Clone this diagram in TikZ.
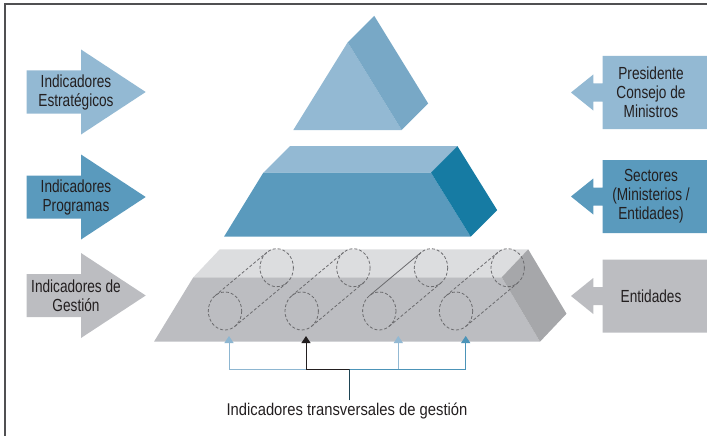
\documentclass[tikz,border=0pt]{standalone}
\usepackage{fontspec}
\setmainfont{Liberation Sans}[FakeStretch=0.78]
\newfontfamily\widefont{Liberation Sans}[FakeStretch=0.87]
\usetikzlibrary{arrows.meta}

\definecolor{lightblue}{HTML}{93B9D3}
\definecolor{sideblue}{HTML}{78A8C6}
\definecolor{midblue}{HTML}{5A9ABD}
\definecolor{darkteal}{HTML}{167BA3}
\definecolor{lightgray}{HTML}{DCDDDF}
\definecolor{midgray}{HTML}{BCBDC1}
\definecolor{sidegray}{HTML}{A6A7AA}
\definecolor{textgray}{HTML}{231F20}
\definecolor{pipegray}{HTML}{6B6B6E}
\definecolor{framegray}{HTML}{505052}

\begin{document}
\begin{tikzpicture}[x=1pt,y=-1pt,
    sidetext/.style={align=center,text=textgray,inner sep=0pt,
      font=\fontsize{17.5}{19}\selectfont},
    pipe/.style={draw=pipegray,line width=0.8pt,dash pattern=on 3pt off 2pt},
    pipe solid/.style={draw=pipegray,line width=0.8pt},
    tip/.style={-{Triangle[width=9pt,length=7pt]}},
    link/.style={line width=1pt}]
  \useasboundingbox (0,0) rectangle (707,436);

  % frame
  \draw[framegray,line width=2pt] (5,440) -- (5,4) -- (710,4);

  % arrows at the left
  \foreach \y/\c in {92/lightblue,197/midblue,295.5/midgray}
    \fill[\c] (26.7,\y-21.5) -- (81,\y-21.5) -- (81,\y-42.5) -- (145.7,\y)
      -- (81,\y+42.5) -- (81,\y+21.5) -- (26.7,\y+21.5) -- cycle;

  % boxes at the right
  \foreach \y/\c in {92.5/lightblue,196.5/midblue,296/midgray}
    \fill[\c] (707,\y-36.5) -- (602.7,\y-36.5) -- (602.7,\y-9) -- (593.3,\y-9)
      -- (593.3,\y-18) -- (571,\y) -- (593.3,\y+18) -- (593.3,\y+9)
      -- (602.7,\y+9) -- (602.7,\y+36.5) -- (707,\y+36.5) -- cycle;

  % top of the pyramid
  \fill[lightblue] (293.3,130) -- (347.7,42.3) -- (401.7,130) -- cycle;
  \fill[sideblue] (347.7,42.3) -- (374.2,15.8) -- (428.2,103.5) -- (401.7,130) -- cycle;

  % middle layer
  \fill[lightblue] (263.3,172.7) -- (289.8,146.2) -- (457.5,146.2) -- (431,172.7) -- cycle;
  \fill[midblue] (224,236.7) -- (263.3,172.7) -- (431,172.7) -- (470.7,236.7) -- cycle;
  \fill[darkteal] (431,172.7) -- (457.5,146.2) -- (497.2,210.2) -- (470.7,236.7) -- cycle;

  % bottom layer
  \fill[lightgray] (193.3,277.3) -- (219.8,249.3) -- (528.2,249.3) -- (501.7,277.3) -- cycle;
  \fill[midgray] (154,341.7) -- (193.3,277.3) -- (501.7,277.3) -- (540,341.7) -- cycle;
  \fill[sidegray] (501.7,277.3) -- (528.2,249.3) -- (566.5,313.7) -- (540,341.7) -- cycle;

  % pipes
  \foreach \x/\s in {225/pipe,301.7/pipe,379.3/pipe solid,456/pipe} {
    \draw[pipe] (\x,311) ellipse [x radius=16.7,y radius=19];
    \draw[pipe] (\x+51.7,267.7) ellipse [x radius=16.7,y radius=19];
    \draw[\s] (\x-9.9,295.7) -- ++(51.7,-43.3);
    \draw[pipe] (\x+9.9,326.3) -- ++(51.7,-43.3);
  }

  % texts
  \node[sidetext] (strat) at (76,92) {Indicadores\\Estratégicos};
  \node[sidetext] (prog) at (76,197) {Indicadores\\Programas};
  \node[sidetext] (gest) at (76,295.5) {Indicadores de\\Gestión};
  \node[sidetext] (pres) at (651,92.5) {Presidente\\Consejo de\\Ministros};
  \node[sidetext] (sect) at (651,196.5) {Sectores\\(Ministerios /\\Entidades)};
  \node[sidetext] (ent) at (651,296) {Entidades};
  \node[sidetext,font=\widefont\fontsize{17}{19}\selectfont,anchor=base,inner sep=2pt]
    (trans) at (347,415) {Indicadores transversales de gestión};

  \coordinate (t1) at (229,336);
  \coordinate (t2) at (306,336);
  \coordinate (t3) at (398.3,336);
  \coordinate (t4) at (465.7,336);
  \coordinate (hub) at (349.7,369.3);

  \draw[link,tip,color=lightblue!90!midblue] (hub) -| (t1);
  \draw[link,tip,color=midblue!80!darkteal] (hub) -| (t4);
  \draw[link,tip,color=lightblue] (t3 |- hub) -- (t3);
  \draw[link,tip,color=textgray] (hub) -| (t2);
  \draw[link,color=textgray!60!darkteal] (hub |- trans.north) -- (hub);
\end{tikzpicture}
\end{document}
